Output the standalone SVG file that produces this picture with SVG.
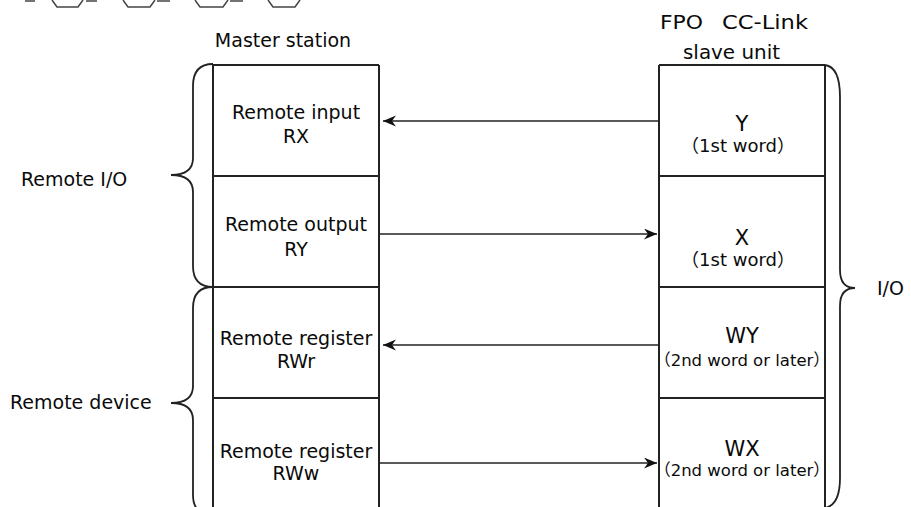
<svg xmlns="http://www.w3.org/2000/svg" width="911" height="507" viewBox="0 0 911 507">
<style>
  .bg { fill: #ffffff; }
  .box { fill: none; stroke: #222; stroke-width: 2; }
  .div { stroke: #222; stroke-width: 2; }
  .brace { fill: none; stroke: #222; stroke-width: 1.8; }
  .conn { stroke: #222; stroke-width: 1.5; fill: none; marker-end: url(#arr); }
  .deco { fill: none; stroke: #444; stroke-width: 1.5; }
  text { font-family: "DejaVu Sans", "Noto Sans CJK JP", sans-serif; fill: #0a0a0a; }
  .lbl { font-size: 19px; text-anchor: middle; }
  .side { font-size: 19px; }
  .hdr { font-size: 20px; }
  .big { font-size: 21px; text-anchor: middle; }
  .sub { font-size: 18px; text-anchor: middle; }
  .sub2 { font-size: 16.5px; text-anchor: middle; }
</style>
<defs>
  <marker id="arr" markerWidth="14" markerHeight="12" refX="13" refY="5.5" orient="auto" markerUnits="userSpaceOnUse">
    <path d="M0,0 L13,5.5 L0,11 L4,5.5 Z" fill="#111"/>
  </marker>
</defs>
<rect class="bg" x="0" y="0" width="911" height="507"/>

<g id="top-decoration">
  <path class="deco" d="M25,1 L35,1"/>
  <path class="deco" d="M52,0 L57,7 L78,7 L83,0"/>
  <path class="deco" d="M86,1 L97,1"/>
  <path class="deco" d="M123,0 L128,7 L150,7 L155,0"/>
  <path class="deco" d="M157,1 L170,1"/>
  <path class="deco" d="M195,0 L200,7 L223,7 L228,0"/>
  <path class="deco" d="M230,1 L243,1"/>
  <path class="deco" d="M268,0 L273,7 L295,7 L300,0"/>
</g>

<g id="headers">
  <text class="hdr" x="283" y="47" text-anchor="middle" style="font-size:19px">Master station</text>
  <text class="hdr" y="29"><tspan x="660" textLength="43" lengthAdjust="spacingAndGlyphs">FPO</tspan><tspan x="722" textLength="86" lengthAdjust="spacingAndGlyphs">CC-Link</tspan></text>
  <text class="hdr" x="683" y="59" textLength="97" lengthAdjust="spacingAndGlyphs">slave unit</text>
</g>

<g id="master-station">
  <path class="box" d="M213,65 L379,65 M213,65 L213,510 M379,65 L379,510"/>
  <g id="master-rx">
    <text class="lbl" x="296" y="119">Remote input</text>
    <text class="lbl" x="296" y="143">RX</text>
  </g>
  <line class="div" x1="213" y1="176" x2="379" y2="176"/>
  <g id="master-ry">
    <text class="lbl" x="296" y="231">Remote output</text>
    <text class="lbl" x="296" y="256">RY</text>
  </g>
  <line class="div" x1="213" y1="287" x2="379" y2="287"/>
  <g id="master-rwr">
    <text class="lbl" x="296" y="345">Remote register</text>
    <text class="lbl" x="296" y="368">RWr</text>
  </g>
  <line class="div" x1="213" y1="398" x2="379" y2="398"/>
  <g id="master-rww">
    <text class="lbl" x="296" y="458">Remote register</text>
    <text class="lbl" x="296" y="480">RWw</text>
  </g>
</g>

<g id="slave-unit">
  <path class="box" d="M659,65 L825,65 M659,65 L659,510 M825,65 L825,510"/>
  <g id="slave-y">
    <text class="big" x="742" y="131">Y</text>
    <text class="sub" x="738" y="152">（1st word）</text>
  </g>
  <line class="div" x1="659" y1="176" x2="825" y2="176"/>
  <g id="slave-x">
    <text class="big" x="742" y="245">X</text>
    <text class="sub" x="738" y="266">（1st word）</text>
  </g>
  <line class="div" x1="659" y1="287" x2="825" y2="287"/>
  <g id="slave-wy">
    <text class="big" x="742" y="343">WY</text>
    <text class="sub2" x="742" y="366">（2nd word or later）</text>
  </g>
  <line class="div" x1="659" y1="398" x2="825" y2="398"/>
  <g id="slave-wx">
    <text class="big" x="742" y="456">WX</text>
    <text class="sub2" x="742" y="476">（2nd word or later）</text>
  </g>
</g>

<g id="braces">
  <g id="brace-remote-io">
    <path class="brace" d="M213,64 Q193,64 193,86 L193,158 Q193,175 171,175 Q193,175 193,192 L193,266 Q193,287 213,287"/>
    <text class="side" x="21" y="186">Remote I/O</text>
  </g>
  <g id="brace-remote-device">
    <path class="brace" d="M213,287 Q193,287 193,308 L193,386 Q193,403 171,403 Q193,403 193,420 L193,495 Q193,515 213,515"/>
    <text class="side" x="10" y="409">Remote device</text>
  </g>
  <g id="brace-io">
    <path class="brace" d="M825,65 Q840,67 840,97 L840,270 Q840,288 855,288 Q840,288 840,306 L840,478 Q840,505 825,508"/>
    <text class="side" x="877" y="295">I/O</text>
  </g>
</g>

<g id="connectors">
  <line class="conn" x1="659" y1="121" x2="383" y2="121"/>
  <line class="conn" x1="379" y1="234" x2="657" y2="234"/>
  <line class="conn" x1="659" y1="345" x2="383" y2="345"/>
  <line class="conn" x1="379" y1="463" x2="657" y2="463"/>
</g>
</svg>
